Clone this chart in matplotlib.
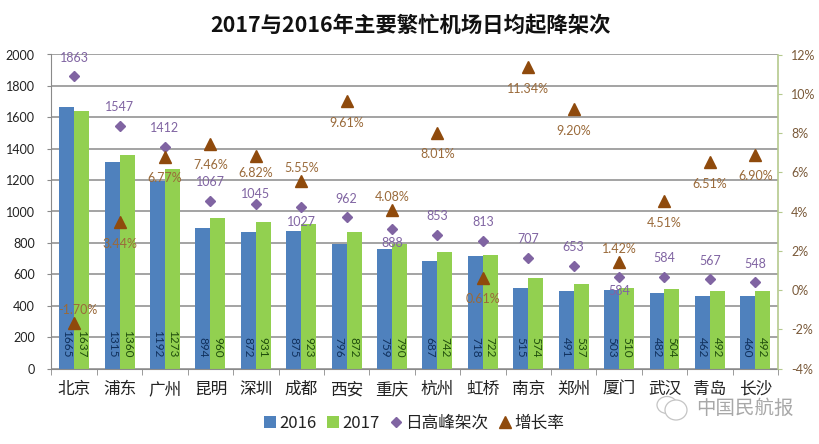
# -*- coding: utf-8 -*-
import matplotlib
matplotlib.use('Agg')
import numpy as np
import matplotlib.pyplot as plt
from matplotlib.patches import Ellipse

plt.rcParams['font.family'] = ['Noto Sans CJK SC', 'DejaVu Sans']

airports = ['北京', '浦东', '广州', '昆明', '深圳', '成都', '西安', '重庆',
            '杭州', '虹桥', '南京', '郑州', '厦门', '武汉', '青岛', '长沙']
flights_2016 = [1665, 1315, 1192, 894, 872, 875, 796, 759,
                687, 718, 515, 491, 503, 482, 462, 460]
flights_2017 = [1637, 1360, 1273, 960, 931, 923, 872, 790,
                742, 722, 574, 537, 510, 504, 492, 492]
peak = [1863, 1547, 1412, 1067, 1045, 1027, 962, 888,
        853, 813, 707, 653, 584, 584, 567, 548]
growth = [-1.70, 3.44, 6.77, 7.46, 6.82, 5.55, 9.61, 4.08,
          8.01, 0.61, 11.34, 9.20, 1.42, 4.51, 6.51, 6.90]

# label placement, index of points whose label sits on the other side
peak_below = [5, 7, 12]
growth_above = [0, 5, 7, 12]

BLUE = '#4f81bd'
GREEN = '#92d050'
PURPLE = '#8064a2'
BROWN = '#8f4a0c'
NUMFONT = ['Lato', 'DejaVu Sans']

fig = plt.figure(figsize=(8.2, 4.44), dpi=100)
ax = fig.add_axes([51.5 / 820, 1 - 368.5 / 444, (778 - 51.5) / 820, (368.5 - 54.5) / 444])

x = np.arange(len(airports))
width = 0.33
bars16 = ax.bar(x - width / 2, flights_2016, width, color=BLUE, label='2016', zorder=2)
bars17 = ax.bar(x + width / 2, flights_2017, width, color=GREEN, label='2017', zorder=2)
diamonds, = ax.plot(x, peak, ls='none', marker='D', ms=5.5, color=PURPLE, label='日高峰架次', zorder=4)

ax.set_xlim(-0.5, len(airports) - 0.5)
ax.set_ylim(0, 2000)
ax.set_yticks(np.arange(0, 2001, 200))
ax.set_xticks(x)
ax.set_xticklabels(airports, fontsize=12, color='#222222')
ax.set_axisbelow(True)
ax.grid(axis='y', color='#8a8a8a', lw=1.1)
ax.tick_params(axis='x', length=0, pad=9)
ax.tick_params(axis='y', length=3, color='#8a8a8a', labelsize=9, labelcolor='#222222', pad=9)
for lab in ax.get_yticklabels():
    lab.set_family(NUMFONT)

# group separators on the category axis
ax.set_xticks(np.arange(-0.5, len(airports)), minor=True)
ax.tick_params(axis='x', which='minor', length=4, color='#8a8a8a')

for side in ['top', 'right']:
    ax.spines[side].set_visible(False)
for side in ['left', 'bottom']:
    ax.spines[side].set_color('#8a8a8a')

ax2 = ax.twinx()
triangles, = ax2.plot(x, growth, ls='none', marker='^', ms=8.5, color=BROWN, label='增长率', zorder=5)
ax2.set_ylim(-4, 12)
ax2.set_yticks(np.arange(-4, 13, 2))
ax2.set_yticklabels(['%d%%' % v for v in np.arange(-4, 13, 2)], family=NUMFONT, fontsize=9, color='#7a5a3a')
ax2.tick_params(axis='y', length=3, color='#b5c98e', pad=6.5)
for side in ['top', 'left', 'bottom']:
    ax2.spines[side].set_visible(False)
ax2.spines['right'].set_color('#b5c98e')
ax2.spines['right'].set_linewidth(1.2)

for xi, v in zip(x, flights_2016):
    ax.annotate(str(v), (xi - width / 2, 0), xytext=(0, 8), textcoords='offset points', ha='center', va='bottom',
                rotation=270, family=NUMFONT, fontsize=8.5, color='#10305c', zorder=3)
for xi, v in zip(x, flights_2017):
    ax.annotate(str(v), (xi + width / 2, 0), xytext=(0, 8), textcoords='offset points', ha='center', va='bottom',
                rotation=270, family=NUMFONT, fontsize=8.5, color='#1f4d0c', zorder=3)

for i, v in enumerate(peak):
    dy = -6 if i in peak_below else 9
    if i == 4:
        dy = 3  # 1045 sits closer to its marker
    ax2.annotate(str(v), (x[i], v / 2000 * 16 - 4), xytext=(0, dy), textcoords='offset points', ha='center',
                 va='top' if i in peak_below else 'bottom', family=NUMFONT, fontsize=9, color=PURPLE, zorder=6)
for i, v in enumerate(growth):
    dy = 5 if i in growth_above else -11
    dx = 0
    if i == 4:
        dy = -8
    if i == 0:
        dx = 3
    ax2.annotate('%.2f%%' % v, (x[i], v), xytext=(dx, dy), textcoords='offset points', ha='center',
                 va='bottom' if i in growth_above else 'top', family=NUMFONT, fontsize=9, color='#9a6a3a', zorder=6)

fig.text(411 / 820, 1 - 25 / 444, '2017与2016年主要繁忙机场日均起降架次', ha='center', va='center',
         fontsize=15.4, fontweight='bold', color='#111111')

handles = [bars16, bars17, diamonds, triangles]
fig.legend(handles, [h.get_label() for h in handles], loc='center', bbox_to_anchor=(414 / 820, 1 - 423 / 444),
           ncol=4, frameon=False, fontsize=12, handlelength=0.7, handleheight=0.7, handletextpad=0.2,
           columnspacing=0.65, labelcolor='#222222')

# watermark, bottom right
wm = fig.add_axes([0, 0, 1, 1], facecolor='none')
wm.set_xlim(0, 820)
wm.set_ylim(444, 0)
wm.axis('off')
wm.add_patch(Ellipse((667, 405), 20, 17, fill=False, ec='#c4c4c4', lw=0.9))
wm.add_patch(Ellipse((676, 410), 22, 20, fc='white', ec='#c4c4c4', lw=0.9))
wm.text(745, 408, '中国民航报', ha='center', va='center', fontsize=14, color='#a8a8a8')

fig.savefig('out.png', dpi=100)
